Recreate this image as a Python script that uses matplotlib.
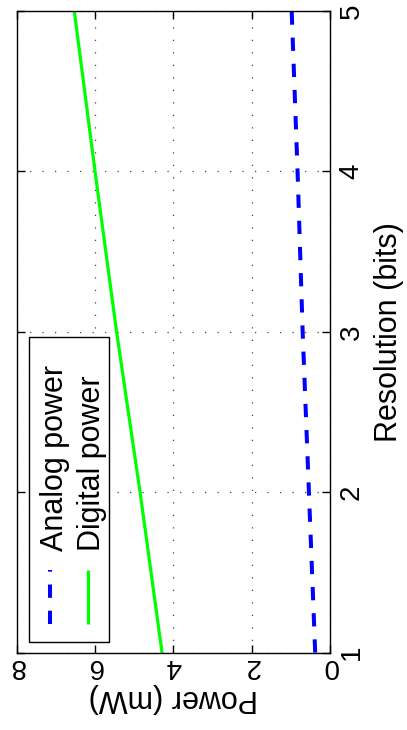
import matplotlib
matplotlib.use("Agg")
import matplotlib.pyplot as plt
from matplotlib.lines import Line2D
from matplotlib.patches import Rectangle

# ---- data ----
resolution_bits = [1, 2, 3, 4, 5]
analog_power = [0.38, 0.54, 0.70, 0.83, 0.98]
digital_power = [4.29, 4.85, 5.45, 6.00, 6.53]
power_ticks = [0, 2, 4, 6, 8]
res_ticks = [1, 2, 3, 4, 5]
series_labels = ["Analog power", "Digital power"]
xlabel_text = "Power (mW)"
ylabel_text = "Resolution (bits)"

plt.rcParams['font.family'] = ['Liberation Sans', 'DejaVu Sans']

fig = plt.figure(figsize=(4.07, 7.30), dpi=100)
ax = fig.add_axes([0.041, 0.106, 0.770, 0.879])

blue = (0, 0, 1)
green = (0, 1, 0)

ax.plot(analog_power, resolution_bits, color=blue, lw=2.9,
        linestyle=(0, (3.3, 3.2)), solid_capstyle='butt', dash_capstyle='butt')
ax.plot(digital_power, resolution_bits, color=green, lw=2.3)

ax.set_xlim(8, 0)
ax.set_ylim(1, 5)
ax.set_xticks(power_ticks)
ax.set_yticks(res_ticks)

ax.grid(True, color='#444444', linestyle=(0, (1, 9)), lw=0.9)

for s in ax.spines.values():
    s.set_color('black')
    s.set_linewidth(1.0)

ax.tick_params(axis='x', direction='in', length=6, width=1.0, top=True, bottom=True,
               labelsize=20, labelrotation=180, pad=0)
ax.tick_params(axis='y', direction='in', length=6, width=1.0, left=True, right=True,
               labelleft=False, labelright=True, labelsize=20, labelrotation=90, pad=6)
for lab in ax.get_yticklabels():
    lab.set_va('center')

ax.set_xlabel(xlabel_text, fontsize=22, rotation=180, ha='center', va='center')
ax.xaxis.set_label_coords(0.5, -0.071)
ax.set_ylabel(ylabel_text, fontsize=22, rotation=90, ha='center', va='center')
ax.yaxis.set_label_coords(1.187, 0.5)

# ---- manual rotated legend ----
x0, x1 = 0.039, 0.295
y0, y1 = 0.0167, 0.492
ax.add_patch(Rectangle((x0, y0), x1 - x0, y1 - y0, transform=ax.transAxes,
                       facecolor='white', edgecolor='black', lw=1.0, zorder=5))
key_x = [0.1063, 0.2276]
text_x = [0.122, 0.240]
key_styles = [dict(color=blue, lw=2.9, linestyle=(0, (3.3, 3.2))),
              dict(color=green, lw=2.3)]
for kx, tx, lbl, st in zip(key_x, text_x, series_labels, key_styles):
    ax.add_line(Line2D([kx, kx], [0.0447, 0.1289], transform=ax.transAxes,
                       zorder=6, solid_capstyle='butt', dash_capstyle='butt', **st))
    ax.text(tx, 0.158, lbl, transform=ax.transAxes, rotation=90,
            ha='center', va='bottom', fontsize=22, zorder=6)

fig.savefig("out.png", dpi=100, facecolor='white')
